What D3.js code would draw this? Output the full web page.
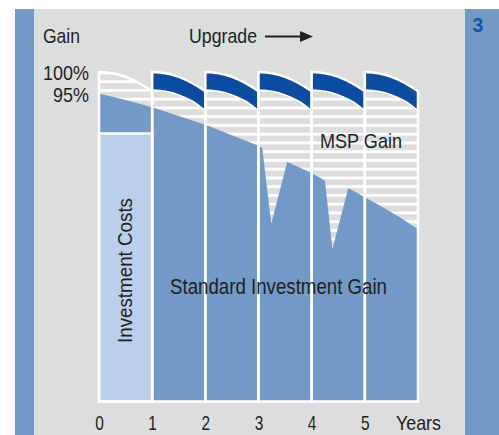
<!DOCTYPE html>
<html>
<head>
<meta charset="utf-8">
<script src="https://cdn.jsdelivr.net/npm/d3@7"></script>
<style>
  html, body { margin: 0; padding: 0; background: #ffffff; }
  svg { display: block; }
  text { font-family: "Liberation Sans", Arial, Helvetica, sans-serif; fill: #231f20; }
</style>
</head>
<body>
<svg id="chart" width="499" height="435"></svg>
<script>
// Year boundaries along the bottom; the last one is labelled with the unit.
const yearTicks = [0, 1, 2, 3, 4, 5, 6];
const yearLabels = ["0", "1", "2", "3", "4", "5", "Years"];

// Gain levels marked on the left.
const gainTicks = [100, 95];
const gainLabels = ["100%", "95%"];

// Standard investment gain (% of nominal) over the years, with two drop-outs.
const stdYears = [0, 0.5, 1, 1.5, 2, 2.5, 3, 3.07, 3.24, 3.54, 4, 4.25, 4.39, 4.69, 5, 5.28, 5.65, 6];
const stdGain  = [95.1, 93.6, 92.0, 90.0, 88.0, 85.6, 83.2, 82.7, 65.5, 79.5, 77.0, 75.3, 59.7, 73.6, 71.5, 69.6, 67.0, 64.2];

// Within each year: maximum gain with MSP and the lower edge of the upgrade band.
const yearOffsets   = [0, 0.25, 0.5, 0.75, 1];
const mspTop        = [100, 99.7, 98.9, 97.5, 95.6];
const upgradeBase   = [95.9, 95.6, 94.8, 93.4, 91.2];

// Investment costs occupy year 0 below this level.
const investLevel = 86;
const investYear = 0;
const upgradeYears = [1, 2, 3, 4, 5];
const floorGain = 25;

const C = {
  panel: "#dcdddf",
  strip: "#7399c6",
  mid: "#7399c6",
  light: "#b9cfeb",
  dark: "#0b4ca0",
  label3: "#1655a8",
  ink: "#231f20"
};

const svg = d3.select("#chart");

// Condensed-looking label: the glyphs are fitted to a set width.
function label(g, px, py, str, width, size, anchor) {
  return g.append("text")
    .attr("x", px).attr("y", py)
    .attr("text-anchor", anchor || "start")
    .attr("textLength", width).attr("lengthAdjust", "spacingAndGlyphs")
    .style("font-size", size + "px")
    .text(str);
}

// Frame: grey panel between two blue strips.
svg.append("rect").attr("x", 15).attr("y", 9).attr("width", 19).attr("height", 426).attr("fill", C.strip);
svg.append("rect").attr("x", 34).attr("y", 9).attr("width", 431).attr("height", 426).attr("fill", C.panel);
svg.append("rect").attr("x", 465).attr("y", 9).attr("width", 34).attr("height", 426).attr("fill", C.strip);
svg.append("text").attr("x", 472.5).attr("y", 32)
  .style("font-weight", "bold").style("font-size", "19.5px")
  .style("fill", C.label3).text("3");

const x = d3.scaleLinear().domain([0, 6]).range([99, 418]);
const y = d3.scaleLinear().domain([floorGain, 100]).range([401.5, 72]);

// Horizontal hatching for the MSP gain region.
const defs = svg.append("defs");
const pat = defs.append("pattern").attr("id", "hatch")
  .attr("patternUnits", "userSpaceOnUse")
  .attr("x", 0).attr("y", 1.5).attr("width", 8).attr("height", 8.75);
pat.append("rect").attr("width", 8).attr("height", 8.75).attr("fill", C.panel);
pat.append("rect").attr("y", 0).attr("width", 8).attr("height", 2.8).attr("fill", "#ffffff");

const arcLine = (col, vals) => yearOffsets.map((t, i) => [x(col + t), y(vals[i])]);
const smooth = d3.line().curve(d3.curveMonotoneX);

// Outline of one year column: sides, the MSP arc on top.
function columnPath(col) {
  const top = arcLine(col, mspTop);
  return "M" + x(col) + "," + y(floorGain) + "L" + smooth(top).slice(1) +
         "L" + x(col + 1) + "," + y(floorGain) + "Z";
}

const cols = d3.range(6);
svg.append("g").selectAll("path").data(cols).join("path")
  .attr("d", columnPath).attr("fill", "url(#hatch)");

// Standard investment gain area.
const stdData = stdYears.map((v, i) => ({ year: v, gain: stdGain[i] }));
svg.append("path").datum(stdData)
  .attr("fill", C.mid)
  .attr("d", d3.area().x(d => x(d.year)).y0(y(floorGain)).y1(d => y(d.gain)));

// Investment costs block in year 0.
svg.append("rect")
  .attr("x", x(investYear)).attr("y", y(investLevel))
  .attr("width", x(investYear + 1) - x(investYear))
  .attr("height", y(floorGain) - y(investLevel))
  .attr("fill", C.light).attr("stroke", "#ffffff").attr("stroke-width", 2.5);

// Upgrade bands: between the MSP arc and its lower edge.
function bandPath(col) {
  const top = arcLine(col, mspTop);
  const bot = arcLine(col, upgradeBase).reverse();
  return smooth(top) + "L" + smooth(bot).slice(1) + "Z";
}
svg.append("g").selectAll("path").data(upgradeYears).join("path")
  .attr("d", bandPath).attr("fill", C.dark);
svg.append("g").selectAll("path").data(upgradeYears).join("path")
  .attr("d", col => smooth(arcLine(col, upgradeBase)))
  .attr("fill", "none").attr("stroke", "#ffffff").attr("stroke-width", 1.5);

// White column outlines.
svg.append("g").selectAll("path").data(cols).join("path")
  .attr("d", columnPath)
  .attr("fill", "none").attr("stroke", "#ffffff").attr("stroke-width", 2.5)
  .attr("stroke-linejoin", "miter");

// Bottom axis labels.
const xAxis = d3.axisBottom(x).tickValues(yearTicks)
  .tickFormat((d, i) => yearLabels[i]).tickSize(0).tickPadding(0);
const gx = svg.append("g").attr("transform", "translate(0,430)").call(xAxis);
gx.select(".domain").remove();
gx.attr("font-family", null).attr("font-size", null);
gx.selectAll("text")
  .attr("y", 0).attr("dy", 0)
  .attr("textLength", d => d === 6 ? 45 : 8.6)
  .attr("lengthAdjust", "spacingAndGlyphs")
  .style("font-size", "21px").style("fill", C.ink);

// Left gain labels.
const gainWidths = [46, 36];
svg.append("g").selectAll("text").data(gainTicks).join("text")
  .attr("x", 89).attr("y", d => y(d) + 8)
  .attr("text-anchor", "end").style("font-size", "21px")
  .attr("textLength", (d, i) => gainWidths[i]).attr("lengthAdjust", "spacingAndGlyphs")
  .text((d, i) => gainLabels[i]);

label(svg, 43, 43, "Gain", 37, 21);
label(svg, 189, 43, "Upgrade", 68, 21);

// Arrow after "Upgrade".
svg.append("line").attr("x1", 265).attr("x2", 302).attr("y1", 36.5).attr("y2", 36.5)
  .attr("stroke", C.ink).attr("stroke-width", 2);
svg.append("path").attr("d", "M300,31 L313,36.5 L300,42 Z").attr("fill", C.ink);

label(svg, 320, 148, "MSP Gain", 82, 21);
label(svg, 170, 294, "Standard Investment Gain", 217, 21.5);
label(svg.append("g").attr("transform", "translate(131.5,343) rotate(-90)"),
      0, 0, "Investment Costs", 145, 19.5);
</script>
</body>
</html>
